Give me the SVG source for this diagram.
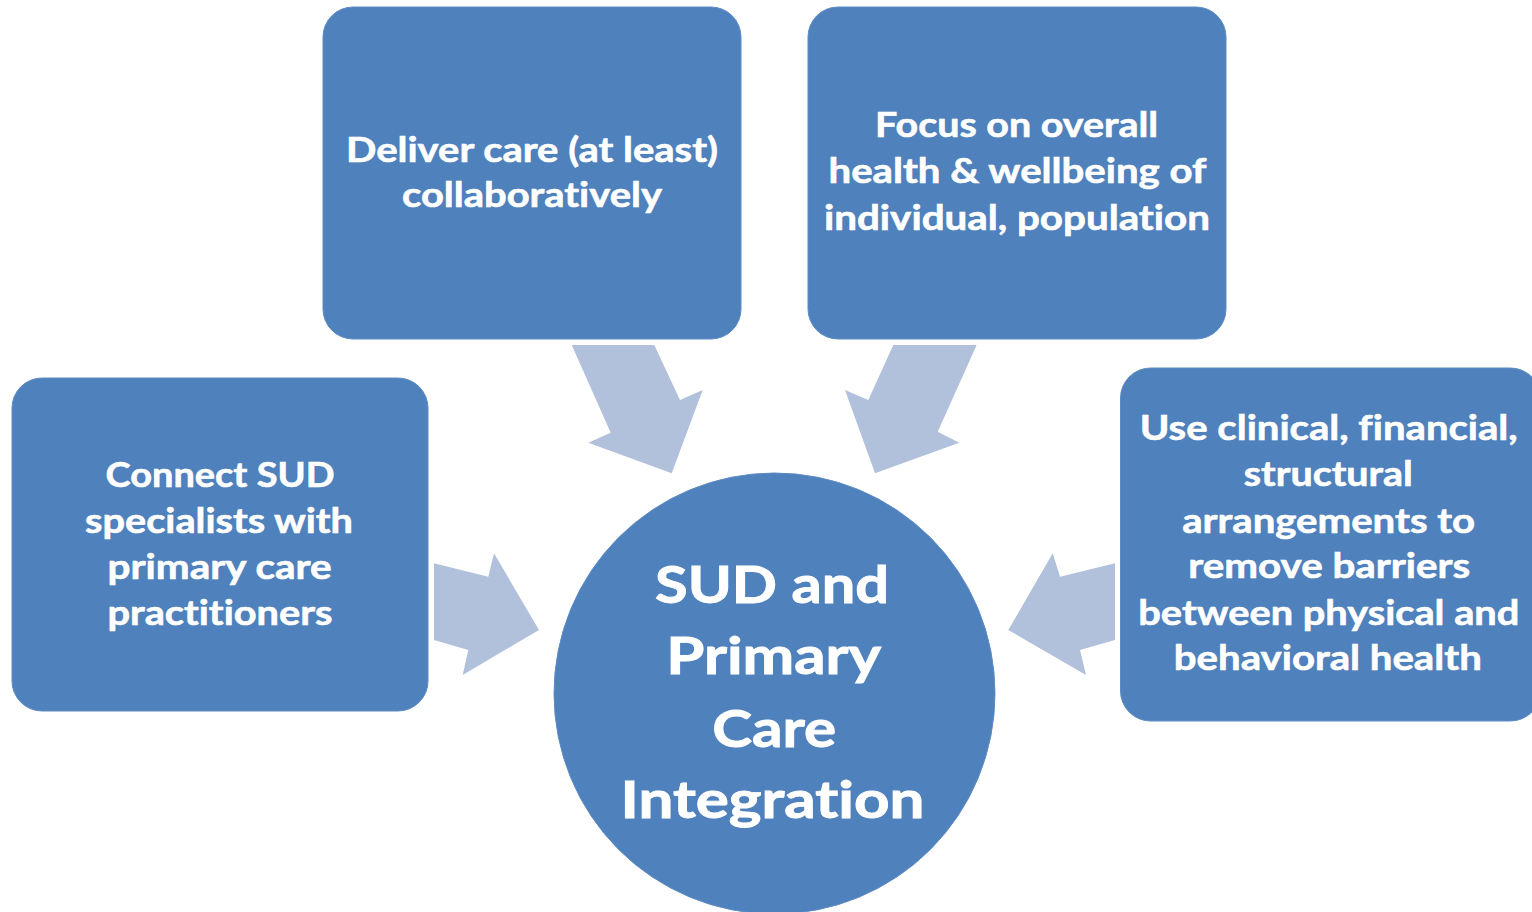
<svg xmlns="http://www.w3.org/2000/svg" width="1532" height="912" viewBox="0 0 1532 912">
<style>
.box{fill:#4F81BD;stroke:#5E8CC3;stroke-width:1}
.arr{fill:#B1C1DC}
.t{font-family:Lato,"Open Sans","Liberation Sans",sans-serif;font-weight:bold;fill:#FFFFFF;font-size:35px;text-anchor:middle;font-variant-ligatures:none;font-feature-settings:"liga" 0,"dlig" 0;stroke:#FFFFFF;stroke-width:0.6px}
.c{font-size:51px;stroke-width:0.9px}
</style>
<rect width="1532" height="912" fill="#FFFFFF"/>
<g id="connectors">
<polygon class="arr" points="571.7,345 654.3,345 680,400 702.7,390 671.7,473.3 588.3,442.7 610.7,432.7"/>
<polygon class="arr" points="893.3,345 976.7,345 937.7,431.7 959.3,442.7 875,473.3 845,390 868.3,400"/>
<polygon class="arr" points="434,563.3 488.3,576.7 494,553.3 539,630 462.7,675 468.3,650 434,640"/>
<polygon class="arr" points="1115,563.3 1060,576.7 1052.7,553.3 1008.3,630 1086,675 1080,650 1115,640"/>
</g>
<g id="node-collab">
<rect class="box" x="323" y="7" width="418" height="332" rx="30" ry="30"/>
<text class="t"><tspan x="532" y="161.7" textLength="372" lengthAdjust="spacingAndGlyphs">Deliver care (at least)</tspan><tspan x="532" y="206.7" textLength="260" lengthAdjust="spacingAndGlyphs">collaboratively</tspan></text>
</g>
<g id="node-focus">
<rect class="box" x="808" y="7" width="418" height="332" rx="30" ry="30"/>
<text class="t"><tspan x="1016.5" y="136.7" textLength="283" lengthAdjust="spacingAndGlyphs">Focus on overall</tspan><tspan x="1017.5" y="182.7" textLength="378" lengthAdjust="spacingAndGlyphs">health &amp; wellbeing of</tspan><tspan x="1017" y="230" textLength="386" lengthAdjust="spacingAndGlyphs">individual, population</tspan></text>
</g>
<g id="node-connect">
<rect class="box" x="12" y="378" width="416" height="333" rx="30" ry="30"/>
<text class="t"><tspan x="220" y="486.7" textLength="229" lengthAdjust="spacingAndGlyphs">Connect SUD</tspan><tspan x="219" y="532.7" textLength="268" lengthAdjust="spacingAndGlyphs">specialists with</tspan><tspan x="219.5" y="579.3" textLength="224" lengthAdjust="spacingAndGlyphs">primary care</tspan><tspan x="220" y="625" textLength="225" lengthAdjust="spacingAndGlyphs">practitioners</tspan></text>
</g>
<g id="node-use">
<rect class="box" x="1120.5" y="368" width="420" height="353" rx="30" ry="30"/>
<text class="t"><tspan x="1328.7" y="440" textLength="378" lengthAdjust="spacingAndGlyphs">Use clinical, financial,</tspan><tspan x="1328.3" y="486" textLength="169" lengthAdjust="spacingAndGlyphs">structural</tspan><tspan x="1328.7" y="532.7" textLength="293" lengthAdjust="spacingAndGlyphs">arrangements to</tspan><tspan x="1329.3" y="578.3" textLength="282" lengthAdjust="spacingAndGlyphs">remove barriers</tspan><tspan x="1328.8" y="625" textLength="381" lengthAdjust="spacingAndGlyphs">between physical and</tspan><tspan x="1327.8" y="670" textLength="308" lengthAdjust="spacingAndGlyphs">behavioral health</tspan></text>
</g>
<g id="node-center">
<circle class="box" cx="774.5" cy="693.5" r="220.5"/>
<text class="t c"><tspan x="772" y="603.3" textLength="234" lengthAdjust="spacingAndGlyphs">SUD and</tspan><tspan x="773.7" y="674" textLength="215" lengthAdjust="spacingAndGlyphs">Primary</tspan><tspan x="774.2" y="746.7" textLength="124" lengthAdjust="spacingAndGlyphs">Care</tspan><tspan x="772.5" y="818.3" textLength="304" lengthAdjust="spacingAndGlyphs">Integration</tspan></text>
</g>
</svg>
